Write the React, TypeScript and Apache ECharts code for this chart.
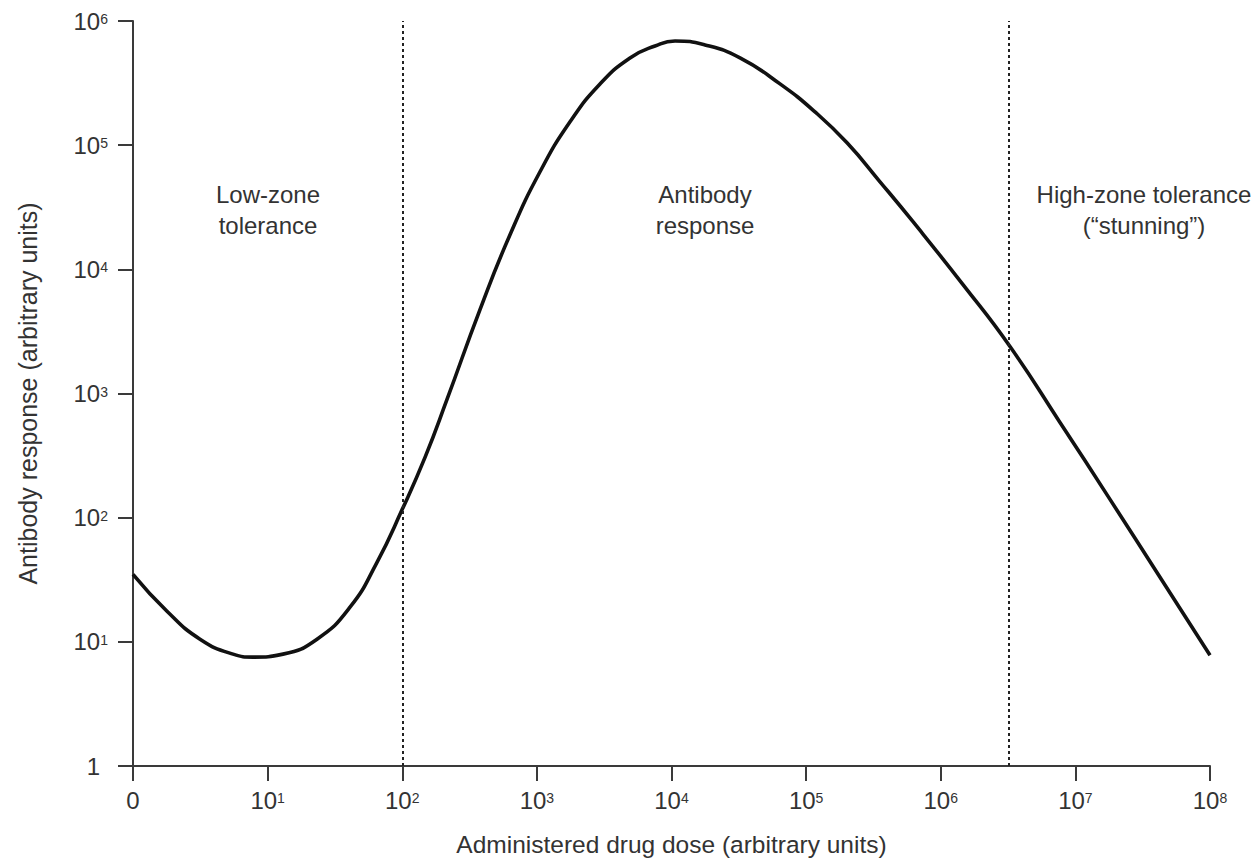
import React, { useEffect, useRef } from "react";
import * as echarts from "echarts";

// Dose (x) and antibody response (y), both on log10 axes
const doses = [
  1, 1.789, 3.146, 5.533, 7.789, 13.01, 23.27, 40.92, 64.93, 100, 147.6, 215,
  378, 631.6, 1055, 1763, 2944, 4918, 7543, 10620, 17740, 32270, 63970, 116400,
  201300, 353900, 622200, 1463000, 3269000, 7688000, 18080000, 42530000,
  100000000,
];
const responses = [
  35, 17.65, 10.51, 7.96, 7.53, 7.96, 10.51, 19, 43.7, 116.7, 305.7, 895, 4740,
  19000, 61050, 154100, 311400, 504200, 629500, 690600, 641200, 504200, 311400,
  185500, 104400, 50700, 24170, 7529, 2388, 584.7, 140.4, 33.1, 7.81,
];

// Zone boundaries (dose values)
const zoneBounds = [100, 3210000];

// Zone captions
const zoneLabels = [
  "Low-zone\ntolerance",
  "Antibody\nresponse",
  "High-zone tolerance\n(\u201cstunning\u201d)",
];

const xAxisTitle = "Administered drug dose (arbitrary units)";
const yAxisTitle = "Antibody response (arbitrary units)";

const TEXT = "#333";
const AXIS = "#3a3a3a";
const FONT = "'Liberation Sans', Arial, sans-serif";

const richLabels = {
  b: { fontSize: 24, lineHeight: 26, color: TEXT, fontFamily: FONT },
  s: {
    fontSize: 14,
    lineHeight: 14,
    verticalAlign: "top",
    padding: [4, 0, 0, 0],
    color: TEXT,
    fontFamily: FONT,
  },
  one: {
    fontSize: 24,
    lineHeight: 26,
    color: TEXT,
    fontFamily: FONT,
    padding: [0, 8, 0, 0],
  },
};

function powerLabel(zeroText: string, zeroStyle: string) {
  return (v: number) => {
    const n = Math.round(Math.log10(v));
    if (n === 0) return `{${zeroStyle}|${zeroText}}`;
    return `{b|10}{s|${n}}`;
  };
}

export default function App() {
  const ref = useRef<HTMLDivElement>(null);

  useEffect(() => {
    if (!ref.current) return;
    const chart = echarts.init(ref.current, undefined, { renderer: "svg" });
    const points = doses.map((d, i) => [d, responses[i]]);

    chart.setOption({
      animation: false,
      backgroundColor: "#ffffff",
      grid: { left: 133, right: 48, top: 21, bottom: 95 },
      xAxis: {
        type: "log",
        logBase: 10,
        min: 1,
        max: 1e8,
        splitNumber: 8,
        name: xAxisTitle,
        nameLocation: "middle",
        nameGap: 66,
        nameTextStyle: { fontSize: 24.5, color: TEXT, fontFamily: FONT },
        axisLine: { show: true, lineStyle: { color: AXIS, width: 2 } },
        axisTick: { show: true, inside: false, length: 15, lineStyle: { color: AXIS, width: 2 } },
        axisLabel: {
          margin: 21,
          formatter: powerLabel("0", "b"),
          rich: richLabels,
        },
        splitLine: { show: false },
        minorTick: { show: false },
      },
      yAxis: {
        type: "log",
        logBase: 10,
        min: 1,
        max: 1e6,
        splitNumber: 6,
        name: yAxisTitle,
        nameLocation: "middle",
        nameGap: 93,
        nameTextStyle: { fontSize: 25, color: TEXT, fontFamily: FONT },
        axisLine: { show: true, lineStyle: { color: AXIS, width: 2 } },
        axisTick: { show: true, inside: false, length: 15, lineStyle: { color: AXIS, width: 2 } },
        axisLabel: {
          margin: 25,
          formatter: powerLabel("1", "one"),
          rich: richLabels,
        },
        splitLine: { show: false },
        minorTick: { show: false },
      },
      series: [
        {
          type: "line",
          data: points,
          smooth: 0.5,
          symbol: "none",
          lineStyle: { color: "#111", width: 3.6 },
          markLine: {
            silent: true,
            symbol: "none",
            label: { show: false },
            lineStyle: { color: "#222", width: 2, type: [3, 3] },
            data: zoneBounds.map((v) => ({ xAxis: v })),
          },
        },
      ],
      graphic: [
        { x: 268, i: 0 },
        { x: 705, i: 1 },
        { x: 1144, i: 2 },
      ].map((p) => ({
        type: "text",
        x: p.x,
        y: 210,
        style: {
          text: zoneLabels[p.i],
          fill: TEXT,
          fontSize: 24,
          lineHeight: 31,
          fontFamily: FONT,
          textAlign: "center",
          textVerticalAlign: "middle",
        },
      })),
    });

    return () => chart.dispose();
  }, []);

  return (
    <div
      ref={ref}
      style={{ position: "fixed", left: 0, top: 0, width: 1258, height: 862, background: "#fff" }}
    />
  );
}
